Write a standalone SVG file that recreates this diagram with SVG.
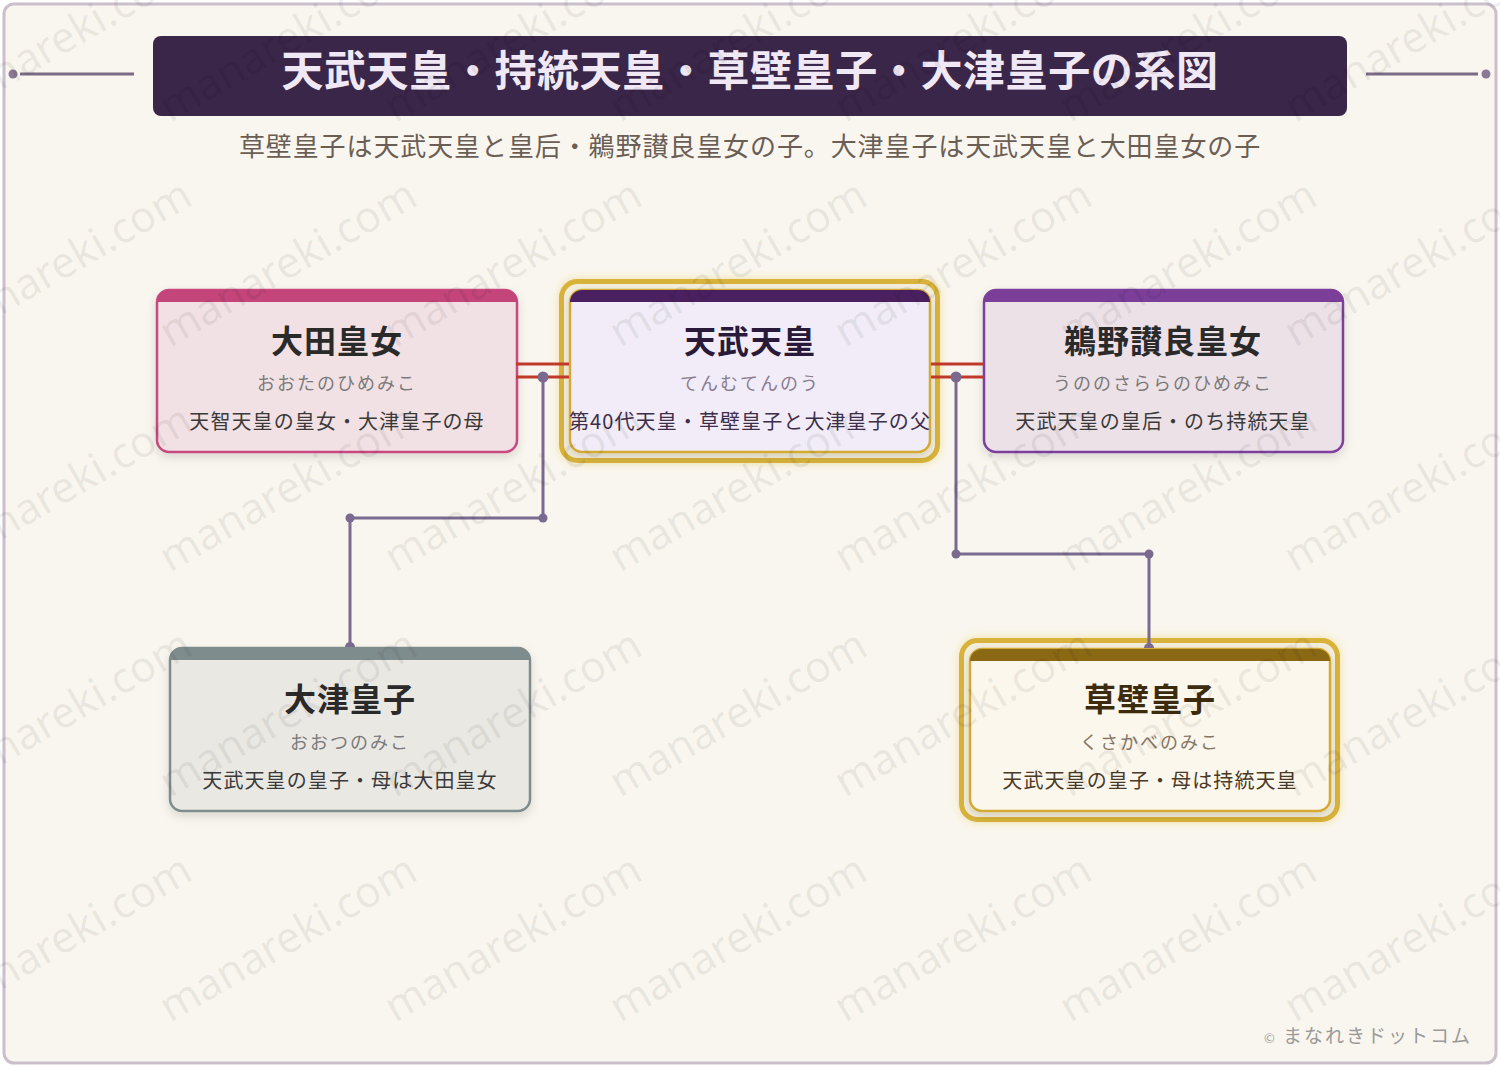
<svg xmlns="http://www.w3.org/2000/svg" xmlns:xlink="http://www.w3.org/1999/xlink" width="1500" height="1067" viewBox="0 0 1500 1067">
<defs>
<style>
.jp{font-family:"Noto Sans CJK JP","Noto Sans",sans-serif}
.ttl{font-size:32px;font-weight:700;text-anchor:middle;letter-spacing:1px}
.rd{font-size:18px;text-anchor:middle;letter-spacing:2px;fill:#7a7a7a}
.ds{font-size:20px;text-anchor:middle;letter-spacing:1.1px;fill:#3a3a3a}
.conn{fill:none;stroke:#7a6a8f;stroke-width:3}
.dot{fill:#7a6a8f}
.mar{stroke:#c0392b;stroke-width:3}
.wm{font-family:"Noto Sans","DejaVu Sans",sans-serif;font-size:43px;fill:#000;fill-opacity:0.07}
</style>
<filter id="sh" x="-10%" y="-10%" width="120%" height="130%">
<feDropShadow dx="0" dy="4" stdDeviation="5" flood-color="#000" flood-opacity="0.13"/>
</filter>
<filter id="glow" x="-10%" y="-15%" width="120%" height="130%">
<feDropShadow dx="0" dy="0" stdDeviation="5" flood-color="#e8c840" flood-opacity="0.45"/>
</filter>
<text id="wmt" class="wm" transform="rotate(-30)">manareki.com</text>
</defs>

<rect x="4" y="4" width="1492" height="1059" rx="10" fill="#f9f6ef" stroke="#cbbfcc" stroke-width="3"/>

<g id="header">
<rect x="153" y="36" width="1194" height="80" rx="8" fill="#3a2649"/>
<text class="jp" x="750" y="86" font-size="42" font-weight="700" fill="#f0e8f5" text-anchor="middle" letter-spacing="0.6">天武天皇・持統天皇・草壁皇子・大津皇子の系図</text>
<line x1="20" y1="74" x2="134" y2="74" stroke="#7a6a85" stroke-width="3"/>
<circle cx="13" cy="74" r="4.5" fill="#8a7a95"/>
<line x1="1366" y1="74" x2="1478" y2="74" stroke="#7a6a85" stroke-width="3"/>
<circle cx="1486" cy="74" r="4.5" fill="#8a7a95"/>
<text class="jp" x="750" y="156" font-size="26" fill="#6b5e55" text-anchor="middle" letter-spacing="0.9">草壁皇子は天武天皇と皇后・鵜野讃良皇女の子。大津皇子は天武天皇と大田皇女の子</text>
</g>

<g id="node-ota">
<rect x="157" y="290" width="360" height="162" rx="12" fill="#f2e1e4" stroke="#c84a80" stroke-width="2.5" filter="url(#sh)"/>
<path d="M157,302 A12 12 0 0 1 169,290 H505 A12 12 0 0 1 517,302 Z" fill="#c4457a"/>
<text class="jp ttl" x="337" y="339" dominant-baseline="central" fill="#2a2a2a">大田皇女</text>
<text class="jp rd" x="337" y="382" dominant-baseline="central">おおたのひめみこ</text>
<text class="jp ds" x="337" y="420" dominant-baseline="central">天智天皇の皇女・大津皇子の母</text>
</g>

<g id="node-tenmu">
<rect x="561.5" y="281.5" width="376" height="179" rx="16" fill="#f4eedc" stroke="#d8b23a" stroke-width="5" filter="url(#glow)"/>
<rect x="570" y="290" width="360" height="162" rx="12" fill="#f1ecf7" stroke="#d4aa35" stroke-width="2.5" filter="url(#sh)"/>
<path d="M570,302 A12 12 0 0 1 582,290 H918 A12 12 0 0 1 930,302 Z" fill="#4a2060"/>
<text class="jp ttl" x="750" y="339" dominant-baseline="central" fill="#2a1a3a">天武天皇</text>
<text class="jp rd" x="750" y="382" dominant-baseline="central" style="fill:#8a7d92">てんむてんのう</text>
<text class="jp ds" x="750" y="420" dominant-baseline="central" style="fill:#3d2f4a">第40代天皇・草壁皇子と大津皇子の父</text>
</g>

<g id="node-uno">
<rect x="984" y="290" width="359" height="162" rx="12" fill="#ede1e8" stroke="#7d3f9c" stroke-width="2.5" filter="url(#sh)"/>
<path d="M984,302 A12 12 0 0 1 996,290 H1331 A12 12 0 0 1 1343,302 Z" fill="#7b3f9a"/>
<text class="jp ttl" x="1163" y="339" dominant-baseline="central" fill="#2a2a2a">鵜野讃良皇女</text>
<text class="jp rd" x="1163" y="382" dominant-baseline="central">うののさららのひめみこ</text>
<text class="jp ds" x="1163" y="420" dominant-baseline="central">天武天皇の皇后・のち持統天皇</text>
</g>

<g id="node-otsu">
<rect x="170" y="648" width="360" height="163" rx="12" fill="#eae8e3" stroke="#7f8c8d" stroke-width="2.5" filter="url(#sh)"/>
<path d="M170,660 A12 12 0 0 1 182,648 H518 A12 12 0 0 1 530,660 Z" fill="#7f8c8d"/>
<text class="jp ttl" x="350" y="697" dominant-baseline="central" fill="#2a2a2a">大津皇子</text>
<text class="jp rd" x="350" y="741" dominant-baseline="central">おおつのみこ</text>
<text class="jp ds" x="350" y="779" dominant-baseline="central">天武天皇の皇子・母は大田皇女</text>
</g>

<g id="node-kusakabe">
<rect x="961.5" y="640.5" width="376" height="179" rx="16" fill="#f4eedc" stroke="#d8b23a" stroke-width="5" filter="url(#glow)"/>
<rect x="970" y="649" width="360" height="162" rx="12" fill="#fbf7ec" stroke="#d4aa35" stroke-width="2.5" filter="url(#sh)"/>
<path d="M970,661 A12 12 0 0 1 982,649 H1318 A12 12 0 0 1 1330,661 Z" fill="#8b6914"/>
<text class="jp ttl" x="1150" y="697" dominant-baseline="central" fill="#3d2b10">草壁皇子</text>
<text class="jp rd" x="1150" y="741" dominant-baseline="central" style="fill:#857565">くさかべのみこ</text>
<text class="jp ds" x="1150" y="779" dominant-baseline="central" style="fill:#4a3a28">天武天皇の皇子・母は持統天皇</text>
</g>

<g id="connectors">
<line class="mar" x1="516" y1="364" x2="569" y2="364"/>
<line class="mar" x1="516" y1="377" x2="569" y2="377"/>
<line class="mar" x1="931" y1="364" x2="984" y2="364"/>
<line class="mar" x1="931" y1="377" x2="984" y2="377"/>
<polyline class="conn" points="543,377 543,518 350,518 350,647"/>
<circle class="dot" cx="543" cy="377" r="5.5"/>
<circle class="dot" cx="543" cy="518" r="4.5"/>
<circle class="dot" cx="350" cy="518" r="4.5"/>
<path class="dot" d="M345,647 A5 5 0 0 1 355,647 Z"/>
<polyline class="conn" points="956,377 956,554 1149,554 1149,648"/>
<circle class="dot" cx="956" cy="377" r="5.5"/>
<circle class="dot" cx="956" cy="554" r="4.5"/>
<circle class="dot" cx="1149" cy="554" r="4.5"/>
<path class="dot" d="M1144,648 A5 5 0 0 1 1154,648 Z"/>
</g>

<text class="jp" x="1472" y="1043" font-size="19" fill="#9a9a9a" text-anchor="end" letter-spacing="2"><tspan font-size="13">©</tspan> まなれきドットコム</text>

<g id="watermark">
<use xlink:href="#wmt" transform="translate(-55,123)"/>
<use xlink:href="#wmt" transform="translate(170,123)"/>
<use xlink:href="#wmt" transform="translate(395,123)"/>
<use xlink:href="#wmt" transform="translate(620,123)"/>
<use xlink:href="#wmt" transform="translate(845,123)"/>
<use xlink:href="#wmt" transform="translate(1070,123)"/>
<use xlink:href="#wmt" transform="translate(1295,123)"/>
<use xlink:href="#wmt" transform="translate(-55,348)"/>
<use xlink:href="#wmt" transform="translate(170,348)"/>
<use xlink:href="#wmt" transform="translate(395,348)"/>
<use xlink:href="#wmt" transform="translate(620,348)"/>
<use xlink:href="#wmt" transform="translate(845,348)"/>
<use xlink:href="#wmt" transform="translate(1070,348)"/>
<use xlink:href="#wmt" transform="translate(1295,348)"/>
<use xlink:href="#wmt" transform="translate(-55,573)"/>
<use xlink:href="#wmt" transform="translate(170,573)"/>
<use xlink:href="#wmt" transform="translate(395,573)"/>
<use xlink:href="#wmt" transform="translate(620,573)"/>
<use xlink:href="#wmt" transform="translate(845,573)"/>
<use xlink:href="#wmt" transform="translate(1070,573)"/>
<use xlink:href="#wmt" transform="translate(1295,573)"/>
<use xlink:href="#wmt" transform="translate(-55,798)"/>
<use xlink:href="#wmt" transform="translate(170,798)"/>
<use xlink:href="#wmt" transform="translate(395,798)"/>
<use xlink:href="#wmt" transform="translate(620,798)"/>
<use xlink:href="#wmt" transform="translate(845,798)"/>
<use xlink:href="#wmt" transform="translate(1070,798)"/>
<use xlink:href="#wmt" transform="translate(1295,798)"/>
<use xlink:href="#wmt" transform="translate(-55,1023)"/>
<use xlink:href="#wmt" transform="translate(170,1023)"/>
<use xlink:href="#wmt" transform="translate(395,1023)"/>
<use xlink:href="#wmt" transform="translate(620,1023)"/>
<use xlink:href="#wmt" transform="translate(845,1023)"/>
<use xlink:href="#wmt" transform="translate(1070,1023)"/>
<use xlink:href="#wmt" transform="translate(1295,1023)"/>
</g>
</svg>
